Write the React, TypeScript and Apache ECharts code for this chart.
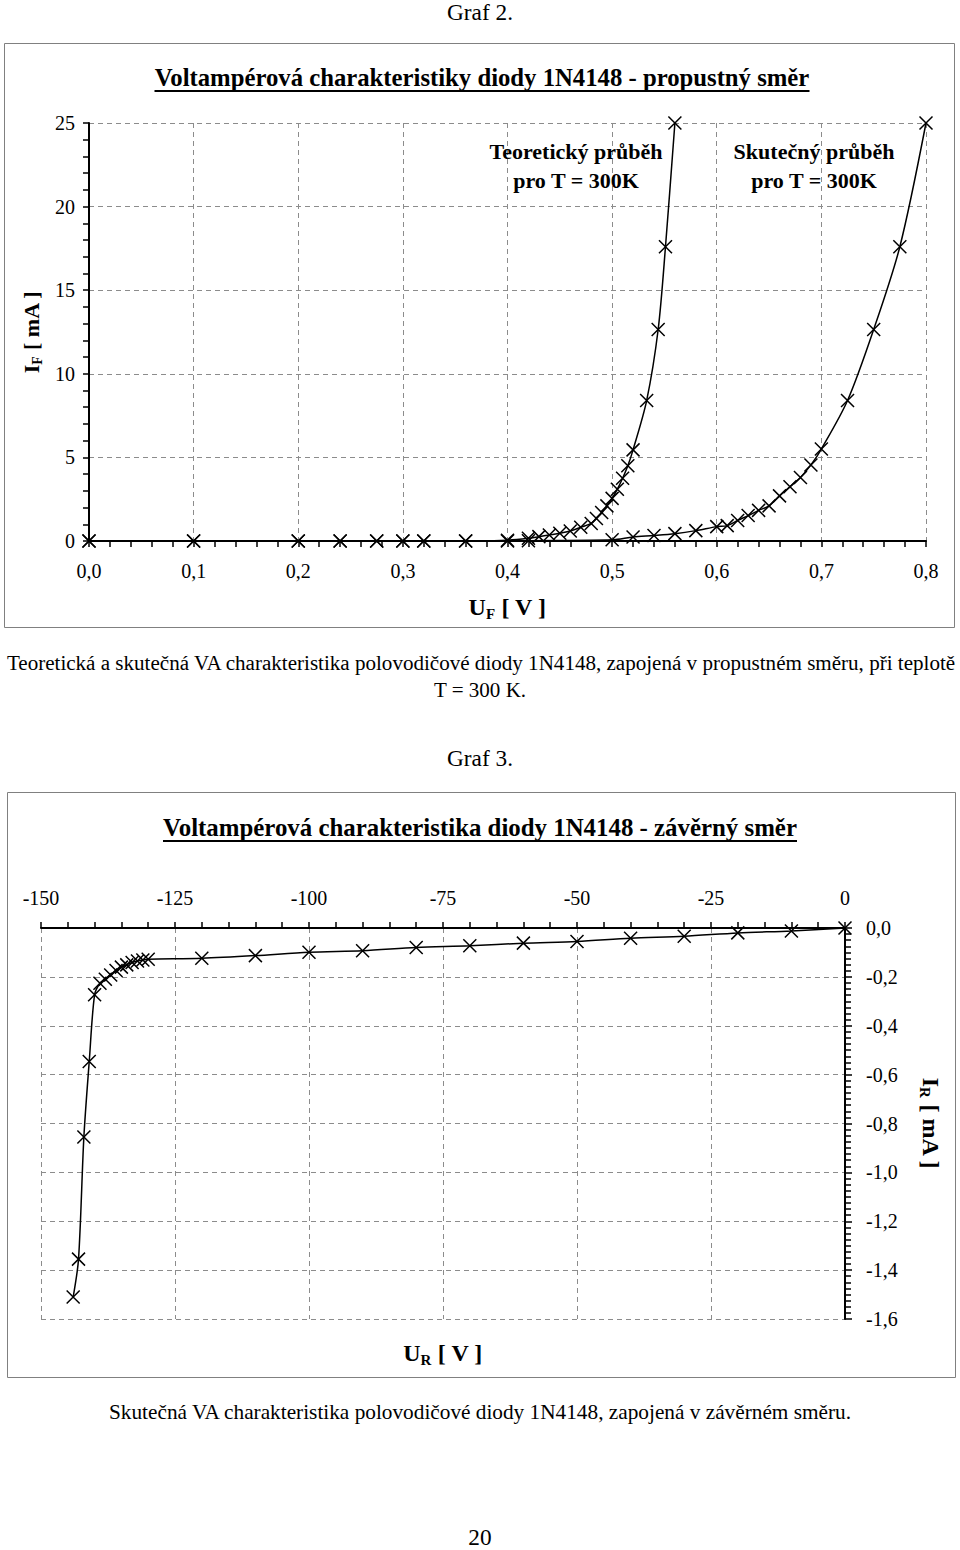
import React, { useEffect, useRef } from 'react';
import * as echarts from 'echarts';

// ---------- Graf 2: forward direction ----------
const fwdXTicks = [0, 0.8, 0.1]; // min, max, interval (V)
const fwdYTicks = [0, 25, 5]; // min, max, interval (mA)

const theoU = [0, 0.1, 0.2, 0.24, 0.275, 0.3, 0.32, 0.36, 0.4, 0.42, 0.43, 0.44, 0.45, 0.46, 0.47, 0.48, 0.485, 0.49, 0.495, 0.5, 0.505, 0.51, 0.515, 0.52, 0.533, 0.544, 0.551, 0.56];
const theoI = [0, 0, 0, 0, 0, 0, 0, 0, 0.05, 0.16, 0.26, 0.36, 0.46, 0.6, 0.82, 1.05, 1.35, 1.7, 2.1, 2.55, 3.1, 3.75, 4.5, 5.45, 8.4, 12.65, 17.6, 25];

const actU = [0, 0.1, 0.2, 0.24, 0.275, 0.3, 0.32, 0.36, 0.4, 0.42, 0.5, 0.52, 0.54, 0.56, 0.58, 0.6, 0.61, 0.62, 0.63, 0.64, 0.65, 0.66, 0.67, 0.68, 0.69, 0.7, 0.725, 0.75, 0.775, 0.8];
const actI = [0, 0, 0, 0, 0, 0, 0, 0, 0, 0.02, 0.07, 0.24, 0.33, 0.44, 0.62, 0.86, 0.92, 1.23, 1.52, 1.83, 2.1, 2.7, 3.25, 3.8, 4.55, 5.5, 8.4, 12.65, 17.6, 25];

// ---------- Graf 3: reverse direction ----------
const revXTicks = [-150, 0, 25]; // V
const revYTicks = [-1.6, 0, 0.2]; // mA

const revU = [-144, -143, -142, -141, -140, -139, -138, -137, -136, -135, -134, -133, -132, -131, -130, -120, -110, -100, -90, -80, -70, -60, -50, -40, -30, -20, -10, 0];
const revI = [-1.51, -1.355, -0.855, -0.546, -0.273, -0.226, -0.21, -0.192, -0.174, -0.16, -0.151, -0.141, -0.135, -0.131, -0.128, -0.124, -0.113, -0.099, -0.093, -0.08, -0.073, -0.062, -0.055, -0.042, -0.034, -0.02, -0.012, 0];

// ---------- texts ----------
const graf2 = 'Graf 2.';
const graf3 = 'Graf 3.';
const title1 = 'Voltampérová charakteristiky diody 1N4148 - propustný směr';
const title2 = 'Voltampérová charakteristika diody 1N4148 - závěrný směr';
const annoTheo = ['Teoretický průběh', 'pro T = 300K'];
const annoAct = ['Skutečný průběh', 'pro T = 300K'];
const caption1 = ['Teoretická a skutečná VA charakteristika polovodičové diody 1N4148, zapojená v propustném směru, při teplotě', 'T = 300 K.'];
const caption2 = 'Skutečná VA charakteristika polovodičové diody 1N4148, zapojená v závěrném směru.';
const pageNo = '20';

const FAM = '"Liberation Serif", "Times New Roman", serif';

const comma1 = (v: number) => v.toFixed(1).replace('.', ',');
const zip = (a: number[], b: number[]) => a.map((x, i) => [x, b[i]]);

const cross = 'path://M0,0L10,10M10,0L0,10';

export default function App() {
  const ref = useRef<HTMLDivElement>(null);

  useEffect(() => {
    if (!ref.current) return;
    const chart = echarts.init(ref.current, undefined, { renderer: 'svg' });

    const ctx = document.createElement('canvas').getContext('2d')!;
    const fit = (text: string, weight: string, target: number) => {
      ctx.font = `${weight} 100px "Liberation Serif"`;
      const w = ctx.measureText(text).width;
      return (100 * target) / w;
    };

    const txt = (text: string, x: number, y: number, size: number, bold = false, extra: any = {}) => ({
      type: 'text',
      x,
      y,
      z: 10,
      ...extra,
      style: {
        text,
        font: `${bold ? 'bold ' : ''}${size.toFixed(2)}px ${FAM}`,
        fill: '#000',
        align: 'center',
        verticalAlign: 'middle',
        textAlign: 'center',
        textVerticalAlign: 'middle',
      },
    });

    const t1Size = fit(title1, 'bold', 655);
    const t2Size = fit(title2, 'bold', 634);
    const annoSize = 22;
    const cap1Size = fit(caption1[0], 'normal', 950);
    const cap2Size = fit(caption2, 'normal', 744);
    const grafSize = fit(graf2, 'normal', 66);

    const tickStyle = { color: '#000', width: 1.5 };
    const gridLine = { show: true, lineStyle: { color: '#8c8c8c', width: 1, type: [5, 4] } };
    const labelStyle = { fontSize: 20, color: '#000', fontFamily: FAM };

    const option: any = {
      animation: false,
      backgroundColor: '#fff',
      textStyle: { fontFamily: FAM },
      grid: [
        { left: 89, top: 123, width: 837, height: 418 },
        { left: 41, top: 928, width: 804, height: 391 },
      ],
      xAxis: [
        {
          gridIndex: 0,
          type: 'value',
          min: fwdXTicks[0],
          max: fwdXTicks[1],
          interval: fwdXTicks[2],
          axisLine: { show: true, onZero: false, lineStyle: { color: '#000', width: 2 } },
          axisTick: { show: true, length: 6, lineStyle: tickStyle },
          minorTick: { show: true, splitNumber: 5, length: 6, lineStyle: tickStyle },
          axisLabel: { ...labelStyle, margin: 20, formatter: comma1 },
          splitLine: gridLine,
          name: '{a|U}{b|F}{a| [ V ]}',
          nameLocation: 'middle',
          nameGap: 52,
          nameTextStyle: {
            rich: {
              a: { fontFamily: FAM, fontWeight: 'bold', fontSize: 24, lineHeight: 28, color: '#000' },
              b: { fontFamily: FAM, fontWeight: 'bold', fontSize: 15, lineHeight: 15, verticalAlign: 'bottom', color: '#000' },
            },
          },
        },
        {
          gridIndex: 1,
          type: 'value',
          position: 'top',
          min: revXTicks[0],
          max: revXTicks[1],
          interval: revXTicks[2],
          axisLine: { show: true, onZero: false, lineStyle: { color: '#000', width: 2 } },
          axisTick: { show: true, length: 6, lineStyle: tickStyle },
          minorTick: { show: true, splitNumber: 5, length: 6, lineStyle: tickStyle },
          axisLabel: { ...labelStyle, margin: 20, formatter: (v: number) => String(v) },
          splitLine: gridLine,
        },
      ],
      yAxis: [
        {
          gridIndex: 0,
          type: 'value',
          min: fwdYTicks[0],
          max: fwdYTicks[1],
          interval: fwdYTicks[2],
          axisLine: { show: true, onZero: false, lineStyle: { color: '#000', width: 2 } },
          axisTick: { show: true, length: 6, lineStyle: tickStyle },
          minorTick: { show: true, splitNumber: 5, length: 6, lineStyle: tickStyle },
          axisLabel: { ...labelStyle, margin: 14 },
          splitLine: gridLine,
          name: '{a|I}{b|F}{a| [ mA ]}',
          nameLocation: 'middle',
          nameGap: 44,
          nameRotate: 90,
          nameTextStyle: {
            rich: {
              a: { fontFamily: FAM, fontWeight: 'bold', fontSize: 22, lineHeight: 26, color: '#000' },
              b: { fontFamily: FAM, fontWeight: 'bold', fontSize: 14, lineHeight: 14, verticalAlign: 'bottom', color: '#000' },
            },
          },
        },
        {
          gridIndex: 1,
          type: 'value',
          position: 'right',
          min: revYTicks[0],
          max: revYTicks[1],
          interval: revYTicks[2],
          axisLine: { show: true, onZero: false, lineStyle: { color: '#000', width: 2 } },
          axisTick: { show: true, length: 7, lineStyle: tickStyle },
          minorTick: { show: true, splitNumber: 8, length: 6, lineStyle: tickStyle },
          axisLabel: { ...labelStyle, margin: 21, formatter: comma1 },
          splitLine: gridLine,
          name: '{a|I}{b|R}{a| [ mA ]}',
          nameLocation: 'middle',
          nameGap: 72,
          nameRotate: -90,
          nameTextStyle: {
            rich: {
              a: { fontFamily: FAM, fontWeight: 'bold', fontSize: 24, lineHeight: 28, color: '#000' },
              b: { fontFamily: FAM, fontWeight: 'bold', fontSize: 15, lineHeight: 15, verticalAlign: 'bottom', color: '#000' },
            },
          },
        },
      ],
      series: [
        {
          name: 'Teoretický průběh',
          type: 'line',
          xAxisIndex: 0,
          yAxisIndex: 0,
          data: zip(theoU, theoI),
          smooth: 0.3,
          symbol: cross,
          symbolSize: 13,
          showAllSymbol: true,
          itemStyle: { color: '#000', borderColor: '#000', borderWidth: 1.5 },
          lineStyle: { color: '#000', width: 1.5 },
        },
        {
          name: 'Skutečný průběh',
          type: 'line',
          xAxisIndex: 0,
          yAxisIndex: 0,
          data: zip(actU, actI),
          smooth: 0.3,
          symbol: cross,
          symbolSize: 13,
          showAllSymbol: true,
          itemStyle: { color: '#000', borderColor: '#000', borderWidth: 1.5 },
          lineStyle: { color: '#000', width: 1.5 },
        },
        {
          name: 'Závěrný směr',
          type: 'line',
          xAxisIndex: 1,
          yAxisIndex: 1,
          data: zip(revU, revI),
          smooth: 0.3,
          symbol: cross,
          symbolSize: 13,
          showAllSymbol: true,
          itemStyle: { color: '#000', borderColor: '#000', borderWidth: 1.5 },
          lineStyle: { color: '#000', width: 1.5 },
        },
      ],
      graphic: [
        { type: 'rect', shape: { x: 4.5, y: 43.5, width: 950, height: 584 }, style: { fill: 'none', stroke: '#808080', lineWidth: 1 }, z: 0 },
        { type: 'rect', shape: { x: 7.5, y: 792.5, width: 948, height: 585 }, style: { fill: 'none', stroke: '#808080', lineWidth: 1 }, z: 0 },
        txt(graf2, 480, 12, grafSize),
        txt(title1, 482, 77, t1Size, true),
        { type: 'line', shape: { x1: 482 - 655 / 2, y1: 91, x2: 482 + 655 / 2, y2: 91 }, style: { stroke: '#000', lineWidth: 2 } },
        txt(annoTheo[0], 576, 151, annoSize, true),
        txt(annoTheo[1], 576, 180, annoSize, true),
        txt(annoAct[0], 814, 151, annoSize, true),
        txt(annoAct[1], 814, 180, annoSize, true),
        txt(caption1[0], 481, 663, cap1Size),
        txt(caption1[1], 480, 690, cap1Size),
        txt(graf3, 480, 758, grafSize),
        txt(title2, 480, 827, t2Size, true),
        { type: 'line', shape: { x1: 480 - 634 / 2, y1: 841, x2: 480 + 634 / 2, y2: 841 }, style: { stroke: '#000', lineWidth: 2 } },
        {
          type: 'text',
          x: 443,
          y: 1353,
          z: 10,
          style: {
            text: '{a|U}{b|R}{a| [ V ]}',
            align: 'center',
            verticalAlign: 'middle',
            textAlign: 'center',
            textVerticalAlign: 'middle',
            rich: {
              a: { fontFamily: FAM, fontWeight: 'bold', fontSize: 24, lineHeight: 28, fill: '#000', color: '#000' },
              b: { fontFamily: FAM, fontWeight: 'bold', fontSize: 15, lineHeight: 15, verticalAlign: 'bottom', fill: '#000', color: '#000' },
            },
          },
        },
        txt(caption2, 480, 1412, cap2Size),
        txt(pageNo, 480, 1537, grafSize),
      ],
    };

    chart.setOption(option);
    return () => chart.dispose();
  }, []);

  return (
    <div
      ref={ref}
      style={{ position: 'absolute', left: 0, top: 0, width: 960, height: 1550, background: '#fff' }}
    />
  );
}
